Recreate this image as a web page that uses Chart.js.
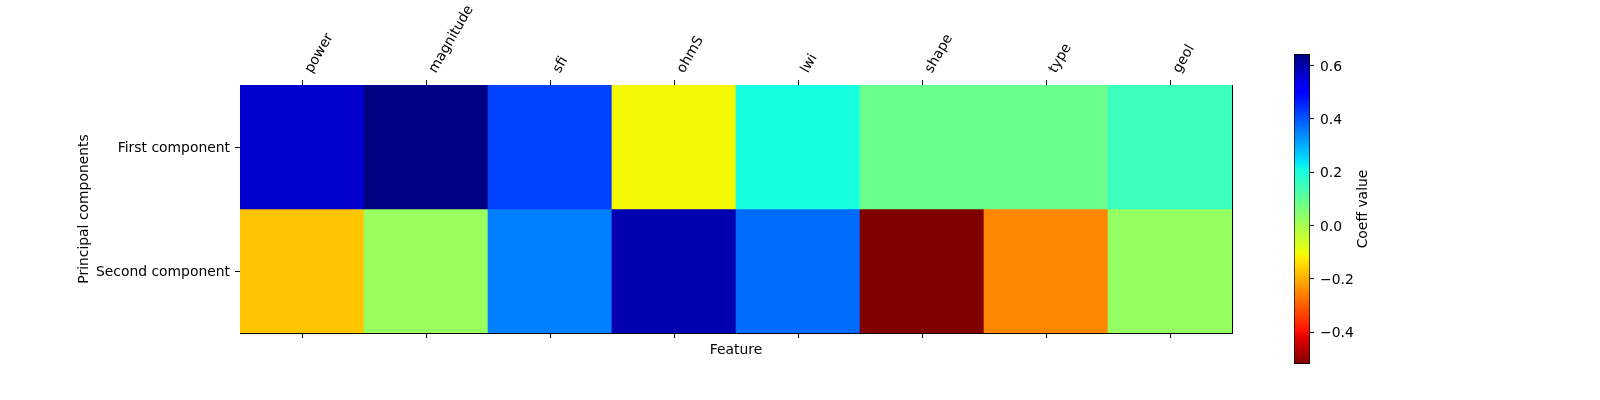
<!DOCTYPE html>
<html>
<head>
<meta charset="utf-8">
<script src="https://cdn.jsdelivr.net/npm/chart.js@4/dist/chart.umd.min.js"></script>
<style>
  body { margin: 0; background: #fff; }
  #main { position: absolute; left: 0; top: 0; }
  #cbar { position: absolute; left: 1280px; top: 0; }
</style>
</head>
<body>
<canvas id="main" width="1260" height="400"></canvas>
<canvas id="cbar" width="160" height="400"></canvas>
<script>
var features = ['power', 'magnitude', 'sfi', 'ohmS', 'lwi', 'shape', 'type', 'geol'];
var components = ['First component', 'Second component'];
var firstComp = [0.564, 0.64, 0.426, -0.109, 0.205, 0.086, 0.086, 0.155];
var secondComp = [-0.173, 0.02, 0.353, 0.595, 0.376, -0.52, -0.249, 0.025];
var colorTicks = [-0.4, -0.2, 0.0, 0.2, 0.4, 0.6];
var vmin = -0.52, vmax = 0.644;

var font = { family: "'DejaVu Sans', sans-serif", size: 13.9 };

// matplotlib jet, used reversed (jet_r)
var jetR = [[0, 0], [0.35, 0], [0.66, 1], [0.89, 1], [1, 0.5]];
var jetG = [[0, 0], [0.125, 0], [0.375, 1], [0.64, 1], [0.91, 0], [1, 0]];
var jetB = [[0, 0.5], [0.11, 1], [0.34, 1], [0.65, 0], [1, 0]];
function interp(pts, x) {
    for (var i = 1; i < pts.length; i++) {
        if (x <= pts[i][0]) {
            var a = pts[i - 1], b = pts[i];
            return a[1] + (b[1] - a[1]) * (x - a[0]) / (b[0] - a[0]);
        }
    }
    return pts[pts.length - 1][1];
}
function jet(x) {
    x = Math.min(1, Math.max(0, x));
    return 'rgb(' + Math.round(interp(jetR, x) * 255) + ',' + Math.round(interp(jetG, x) * 255) + ',' + Math.round(interp(jetB, x) * 255) + ')';
}
function colorOf(v) {
    return jet((vmax - v) / (vmax - vmin));
}

var tickGrid = { drawOnChartArea: false, drawTicks: true, tickLength: 5, color: '#000', offset: false };
var blackBorder = { color: '#000', width: 1 };

new Chart(document.getElementById('main').getContext('2d'), {
    type: 'bar',
    data: {
        labels: features,
        datasets: [{
            label: components[0],
            data: features.map(() => 1),
            backgroundColor: firstComp.map(colorOf),
            borderWidth: 0
        }, {
            label: components[1],
            data: features.map(() => 1),
            backgroundColor: secondComp.map(colorOf),
            borderWidth: 0
        }]
    },
    options: {
        responsive: false,
        animation: false,
        barPercentage: 1,
        categoryPercentage: 1,
        layout: { padding: { left: 72, right: 28, top: 0, bottom: 37 } },
        plugins: {
            legend: { display: false },
            tooltip: { enabled: false }
        },
        scales: {
            x: {
                position: 'top',
                stacked: true,
                grid: tickGrid,
                border: blackBorder,
                ticks: { font: font, color: '#000', minRotation: 60, maxRotation: 60, autoSkip: false, padding: 4, labelOffset: 21 },
                afterFit: s => { s.height = 85; }
            },
            x2: {
                type: 'category',
                position: 'bottom',
                grid: tickGrid,
                border: blackBorder,
                ticks: { display: false },
                title: { display: true, text: 'Feature', font: font, color: '#000' },
                afterFit: s => { s.height = 30; }
            },
            y: {
                type: 'linear',
                position: 'left',
                stacked: true,
                reverse: true,
                min: 0,
                max: 2,
                grid: tickGrid,
                border: blackBorder,
                afterBuildTicks: s => { s.ticks = [{ value: 0.5 }, { value: 1.5 }]; },
                ticks: {
                    font: font, color: '#000', padding: 5, labelOffset: 1.5,
                    callback: (v, i) => components[i]
                },
                title: { display: true, text: 'Principal components', font: font, color: '#000' },
                afterFit: s => { s.width = 168; }
            },
            y2: {
                type: 'linear',
                position: 'right',
                min: 0,
                max: 2,
                grid: { display: false },
                border: blackBorder,
                ticks: { display: false },
                afterFit: s => { s.width = 0; }
            }
        }
    }
});

// colorbar
var cbarTitle = {
    id: 'cbarTitle',
    afterDraw(chart) {
        var s = chart.scales.y, ctx = chart.ctx;
        ctx.save();
        ctx.translate(s.left + 53, (s.top + s.bottom) / 2);
        ctx.rotate(-Math.PI / 2);
        ctx.font = font.size + 'px ' + font.family;
        ctx.fillStyle = '#000';
        ctx.textAlign = 'center';
        ctx.textBaseline = 'middle';
        ctx.fillText('Coeff value', 0, 0);
        ctx.restore();
    }
};

new Chart(document.getElementById('cbar').getContext('2d'), {
    type: 'bar',
    data: {
        labels: [''],
        datasets: [{
            data: [[vmin, vmax]],
            backgroundColor: function (context) {
                var chart = context.chart;
                if (!chart.chartArea) return null;
                var y = chart.scales.y;
                var g = chart.ctx.createLinearGradient(0, y.getPixelForValue(vmax), 0, y.getPixelForValue(vmin));
                for (var i = 0; i <= 64; i++) g.addColorStop(i / 64, jet(i / 64));
                return g;
            },
            borderColor: '#000',
            borderWidth: 1,
            borderSkipped: false
        }]
    },
    options: {
        responsive: false,
        animation: false,
        barPercentage: 1,
        categoryPercentage: 1,
        layout: { padding: { left: 14, right: 0, top: 54, bottom: 36 } },
        plugins: {
            legend: { display: false },
            tooltip: { enabled: false }
        },
        scales: {
            x: { display: false },
            y: {
                position: 'right',
                min: vmin,
                max: vmax,
                grid: { drawOnChartArea: false, drawTicks: true, tickLength: 4, color: '#000' },
                border: { display: false },
                afterBuildTicks: s => { s.ticks = colorTicks.map(v => ({ value: v })); },
                ticks: {
                    font: font, color: '#000', padding: 6, labelOffset: 1.5,
                    callback: v => v.toFixed(1).replace('-', '\u2212')
                },
                afterFit: s => { s.width = 130; }
            }
        }
    },
    plugins: [cbarTitle]
});
</script>
</body>
</html>
